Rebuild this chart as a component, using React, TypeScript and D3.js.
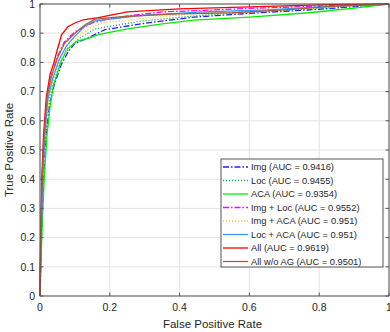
import React from 'react';
import * as d3 from 'd3';

type Pt = [number, number];

const NAMES = [
  'Img (AUC = 0.9416)',
  'Loc (AUC = 0.9455)',
  'ACA (AUC = 0.9354)',
  'Img + Loc (AUC = 0.9552)',
  'Img + ACA (AUC = 0.951)',
  'Loc + ACA (AUC = 0.951)',
  'All (AUC = 0.9619)',
  'All w/o AG (AUC = 0.9501)',
];

const IMG: Pt[] = [[0, 0], [0.004, 0.2], [0.01, 0.4], [0.017, 0.55], [0.027, 0.65], [0.04, 0.72], [0.06, 0.79], [0.08, 0.835], [0.1, 0.865], [0.13, 0.88], [0.186, 0.912], [0.3, 0.934], [0.44, 0.955], [0.6, 0.968], [0.8, 0.982], [1, 1]];
const LOC: Pt[] = [[0, 0], [0.003, 0.2], [0.009, 0.4], [0.016, 0.55], [0.025, 0.66], [0.038, 0.73], [0.058, 0.8], [0.08, 0.845], [0.11, 0.88], [0.158, 0.915], [0.3, 0.943], [0.47, 0.962], [0.65, 0.975], [0.8, 0.985], [1, 1]];
const ACA: Pt[] = [[0, 0], [0.005, 0.2], [0.012, 0.4], [0.02, 0.55], [0.03, 0.66], [0.038, 0.718], [0.057, 0.792], [0.076, 0.844], [0.105, 0.872], [0.143, 0.884], [0.167, 0.895], [0.25, 0.915], [0.35, 0.932], [0.44, 0.945], [0.6, 0.955], [0.77, 0.97], [0.9, 0.986], [1, 1]];
const IMG_LOC: Pt[] = [[0, 0], [0.003, 0.2], [0.007, 0.4], [0.012, 0.55], [0.02, 0.68], [0.032, 0.75], [0.05, 0.82], [0.07, 0.87], [0.1, 0.905], [0.15, 0.935], [0.2, 0.95], [0.27, 0.962], [0.35, 0.973], [0.47, 0.978], [0.6, 0.985], [0.8, 0.993], [1, 1]];
const IMG_ACA: Pt[] = [[0, 0], [0.003, 0.2], [0.008, 0.4], [0.015, 0.55], [0.024, 0.67], [0.037, 0.74], [0.057, 0.805], [0.08, 0.85], [0.11, 0.89], [0.14, 0.915], [0.177, 0.935], [0.3, 0.951], [0.47, 0.97], [0.65, 0.978], [0.8, 0.988], [1, 1]];
const LOC_ACA: Pt[] = [[0, 0], [0.003, 0.2], [0.008, 0.4], [0.014, 0.55], [0.022, 0.67], [0.035, 0.74], [0.055, 0.81], [0.075, 0.855], [0.1, 0.89], [0.13, 0.925], [0.158, 0.942], [0.3, 0.962], [0.47, 0.973], [0.65, 0.98], [0.8, 0.99], [1, 1]];
const ALL: Pt[] = [[0, 0], [0.002, 0.2], [0.005, 0.4], [0.01, 0.55], [0.018, 0.68], [0.029, 0.76], [0.04, 0.8], [0.05, 0.845], [0.062, 0.895], [0.08, 0.922], [0.1, 0.935], [0.124, 0.946], [0.167, 0.953], [0.25, 0.973], [0.4, 0.983], [0.6, 0.99], [0.8, 0.997], [1, 1]];
const ALL_NO_AG: Pt[] = [[0, 0], [0.002, 0.2], [0.006, 0.4], [0.012, 0.55], [0.02, 0.68], [0.032, 0.75], [0.05, 0.815], [0.07, 0.865], [0.1, 0.9], [0.13, 0.93], [0.158, 0.948], [0.25, 0.958], [0.4, 0.966], [0.55, 0.97], [0.7, 0.98], [0.85, 0.993], [1, 1]];

const SERIES = [IMG, LOC, ACA, IMG_LOC, IMG_ACA, LOC_ACA, ALL, ALL_NO_AG];
const COLORS = ['#2020ff', '#20b070', '#00ee00', '#ff00ff', '#f0d040', '#3399ff', '#ff0000', '#a8603a'];
const DASHES = ['6,2,1.5,2', '1.2,1.8', null, '6,2,1.5,2', '1.2,1.8', null, null, null];

const X_TICKS = [0, 0.2, 0.4, 0.6, 0.8, 1];
const Y_TICKS = [0, 0.1, 0.2, 0.3, 0.4, 0.5, 0.6, 0.7, 0.8, 0.9, 1];

const W = 390;
const H = 332;
const M = { left: 40, right: 1, top: 4, bottom: 36 };
const FONT = '"Liberation Sans", Arial, sans-serif';

export default function App() {
  const x = d3.scaleLinear().domain([0, 1]).range([M.left, W - M.right]);
  const y = d3.scaleLinear().domain([0, 1]).range([H - M.bottom, M.top]);
  const line = d3.line<Pt>().x((d) => x(d[0])).y((d) => y(d[1]));

  const legend = { x: 221, y: 159, w: 162, h: 108, row: 13.5 };

  return (
    <svg width={W} height={H} style={{ position: 'absolute', left: 0, top: 0 }} fontFamily={FONT}>
      <rect width={W} height={H} fill="#fff" />
      {/* grid */}
      {X_TICKS.map((t) => (
        <line key={'gx' + t} x1={x(t)} x2={x(t)} y1={y(0)} y2={y(1)} stroke="#e3e3e3" strokeWidth={1} />
      ))}
      {Y_TICKS.map((t) => (
        <line key={'gy' + t} x1={x(0)} x2={x(1)} y1={y(t)} y2={y(t)} stroke="#e3e3e3" strokeWidth={1} />
      ))}
      {/* curves */}
      {SERIES.map((s, i) => (
        <path
          key={'s' + i}
          d={line(s) || ''}
          fill="none"
          stroke={COLORS[i]}
          strokeWidth={1.3}
          strokeDasharray={DASHES[i] || undefined}
        />
      ))}
      {/* box */}
      <rect x={x(0)} y={y(1)} width={x(1) - x(0)} height={y(0) - y(1)} fill="none" stroke="#555" strokeWidth={1} />
      {X_TICKS.map((t) => (
        <g key={'tx' + t}>
          <line x1={x(t)} x2={x(t)} y1={y(0)} y2={y(0) - 3.5} stroke="#555" />
          <line x1={x(t)} x2={x(t)} y1={y(1)} y2={y(1) + 3.5} stroke="#555" />
          <text x={x(t)} y={y(0) + 15} textAnchor="middle" fontSize={10.5} fill="#262626">
            {t}
          </text>
        </g>
      ))}
      {Y_TICKS.map((t) => (
        <g key={'ty' + t}>
          <line x1={x(0)} x2={x(0) + 3.5} y1={y(t)} y2={y(t)} stroke="#555" />
          <line x1={x(1)} x2={x(1) - 3.5} y1={y(t)} y2={y(t)} stroke="#555" />
          <text x={x(0) - 5} y={y(t) + 3.8} textAnchor="end" fontSize={10.5} fill="#262626">
            {t}
          </text>
        </g>
      ))}
      <text x={(x(0) + x(1)) / 2 - 2} y={H - 4} textAnchor="middle" fontSize={11.5} fill="#262626">
        False Positive Rate
      </text>
      <text
        transform={`translate(13, ${(y(0) + y(1)) / 2}) rotate(-90)`}
        textAnchor="middle"
        fontSize={11.5}
        fill="#262626"
      >
        True Positive Rate
      </text>
      {/* legend */}
      <rect x={legend.x} y={legend.y} width={legend.w} height={legend.h} fill="#fff" stroke="#555" strokeWidth={1} />
      {NAMES.map((n, i) => {
        const cy = legend.y + 8 + i * legend.row;
        return (
          <g key={'lg' + i}>
            <line
              x1={legend.x + 2}
              x2={legend.x + 27}
              y1={cy}
              y2={cy}
              stroke={COLORS[i]}
              strokeWidth={1.3}
              strokeDasharray={DASHES[i] || undefined}
            />
            <text x={legend.x + 30} y={cy + 3.3} fontSize={9.3} fill="#262626">
              {n}
            </text>
          </g>
        );
      })}
    </svg>
  );
}
